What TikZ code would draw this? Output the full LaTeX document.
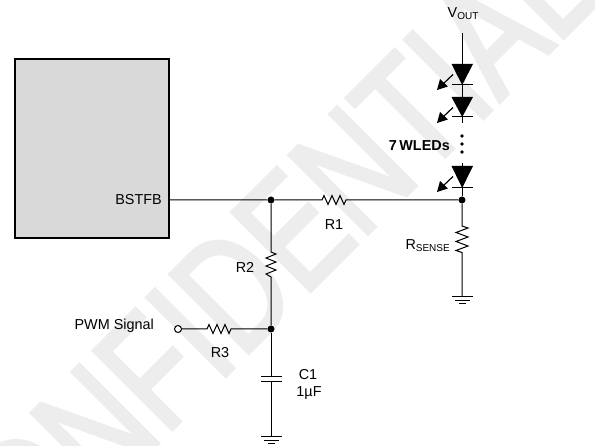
\documentclass[tikz,border=0pt]{standalone}
\usepackage{fontspec}
\setmainfont{Liberation Sans}
\newfontfamily\wmfont[FakeBold=2.2,FakeStretch=0.75]{Liberation Sans}
\definecolor{wmgray}{HTML}{EDEDED}
\definecolor{boxgray}{HTML}{D9D9D9}
\begin{document}
\begin{tikzpicture}[x=1pt,y=-1pt,
 wire/.style={line width=1pt,black},
 dotn/.style={circle,fill=black,inner sep=0pt,minimum size=7pt},
 lbl/.style={inner sep=0pt,font=\fontsize{14.4}{16}\selectfont},
 wm/.style={rotate=45,inner sep=0pt,text=wmgray,font=\wmfont\fontsize{162}{162}\selectfont}
]
\useasboundingbox (0,0) rectangle (595,446);
\node[wm] (mark) at (250,273) {CONFIDENTIAL};
\draw[line width=1.4pt,fill=boxgray] (15,59) rectangle (169,238);
\node[lbl,anchor=east] (bst) at (162,200) {BSTFB};
\coordinate (p) at (169,200);
\node[dotn] (a) at (271,200) {};
\node[dotn] (b) at (462,200) {};
\node[dotn] (c) at (271,329) {};
\draw[wire] (p) -- (a) -- (322,200) -- ++(2,-4.5) -- ++(4,9) -- ++(4,-9) -- ++(4,9) -- ++(4,-9) -- ++(4,9) -- ++(2,-4.5) -- (b);
\draw[wire] (a) -- (271,252) -- ++(5,2) -- ++(-10,4) -- ++(10,4) -- ++(-10,4) -- ++(10,4) -- ++(-10,4) -- ++(5,3) -- (c);
\node[circle,draw,line width=1pt,fill=white,inner sep=0pt,minimum size=7pt] (o) at (178,329) {};
\draw[wire] (o) -- (207,329) -- ++(2,-4.5) -- ++(4,9) -- ++(4,-9) -- ++(4,9) -- ++(4,-9) -- ++(4,9) -- ++(2,-4.5) -- (c);
\node[lbl] (r1) at (334,225) {R1};
\node[lbl] (r2) at (245,267) {R2};
\node[lbl] (r3) at (220,353) {R3};
\node[lbl,anchor=east] (pwm) at (154,326) {PWM Signal};
\node[lbl] (c1) at (308,375) {C1};
\node[lbl] (c1v) at (309,393) {1µF};
\coordinate (gc) at (271,437);
\draw[wire] (c) -- (271,377) (271,382) -- (gc);
\draw[wire] (261,377) -- (282,377) (261,382) -- (282,382);
\draw[wire] (261,437) -- (282,437) (264,440.3) -- (279,440.3) (268,443.6) -- (275,443.6);
\coordinate (gr) at (462,297);
\draw[wire] (b) -- (462,226) -- ++(6,2) -- ++(-12,4.5) -- ++(12,4.5) -- ++(-12,4.5) -- ++(12,4.5) -- ++(-12,4.5) -- ++(6,2) -- (gr);
\draw[wire] (452,297) -- (473,297) (455,300.3) -- (470,300.3) (459,303.6) -- (466,303.6);
\node[lbl,anchor=east] (rs) at (450,246) {R\raisebox{-2pt}{\fontsize{10}{11}\selectfont SENSE}};
\node[lbl,anchor=south] (v) at (463,20) {V\raisebox{-2pt}{\fontsize{10}{11}\selectfont OUT}};
\coordinate (vt) at (462,33);
\draw[wire] (vt) -- (462,64) (462,85) -- (462,97) (462,117) -- (462,123) (462,163) -- (462,166);
\draw[wire] (462,188) -- (b);
\foreach \y/\h in {64/21,97/20,166/22}{
 \fill (451.5,\y) -- (473,\y) -- (462.2,\y+\h) -- cycle;
 \draw[wire] (452,\y+\h) -- (473,\y+\h);
 \draw[line width=1.2pt] (453,\y+10.5) -- (443,\y+20);
 \fill (437,\y+26) -- (440,\y+15) -- (448,\y+22.5) -- cycle;
}
\foreach \y in {136,144,152} \fill (462,\y) circle (1.9);
\node[lbl,anchor=east,font=\fontsize{14.4}{16}\selectfont\bfseries] (w) at (450,146) {7\hspace{0.18em}WLEDs};
\end{tikzpicture}
\end{document}
